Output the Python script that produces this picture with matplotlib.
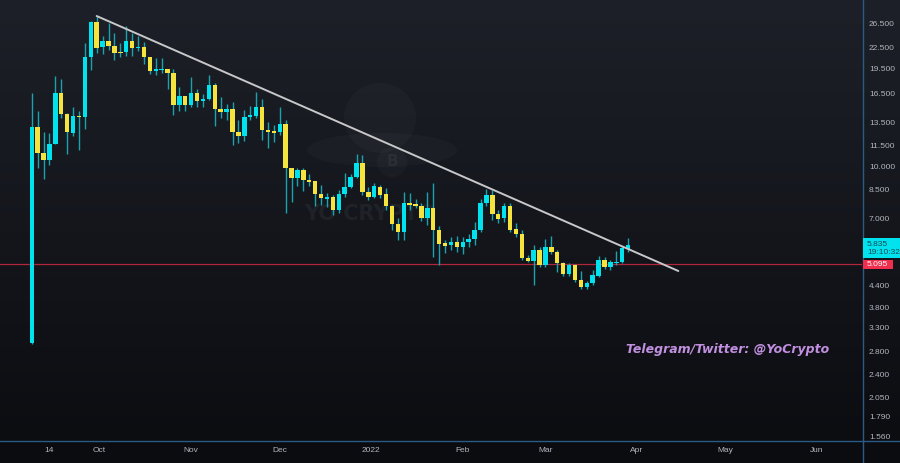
import numpy as np
import pandas as pd
import matplotlib
matplotlib.use("Agg")
import matplotlib.pyplot as plt
import matplotlib.dates as mdates
from matplotlib.colors import LinearSegmentedColormap
from matplotlib.patches import Ellipse, Rectangle
from matplotlib.lines import Line2D

plt.rcParams['font.family'] = ['Liberation Sans', 'DejaVu Sans']

# ---------------- data (2-day candles) ----------------
start_date = "2021-09-08"
n_candles = 102
opens = [
    2.97, 13.08, 10.94, 10.43, 11.64, 16.51, 14.29, 12.55, 14.10, 14.00,
    21.13, 26.86, 22.63, 23.58, 22.79, 21.87, 21.87, 23.58, 22.48, 22.63,
    21.13, 19.20, 19.27, 19.46, 18.94, 15.20, 16.17, 15.20, 16.51, 15.65,
    15.84, 17.44, 14.79, 14.49, 14.79, 12.64, 12.29, 14.01, 14.10, 14.99,
    12.85, 12.72, 12.60, 13.35, 9.86, 9.22, 9.73, 9.09, 9.03, 8.26,
    7.97, 8.09, 7.40, 8.26, 8.67, 9.28, 10.22, 8.37, 8.09, 8.67,
    8.26, 7.60, 6.72, 6.36, 7.76, 7.71, 7.60, 7.01, 7.50, 6.45,
    5.90, 5.82, 5.94, 5.74, 5.94, 6.06, 6.45, 7.76, 8.20, 7.20,
    7.01, 7.60, 6.49, 6.27, 5.32, 5.21, 5.62, 5.07, 5.74, 5.55,
    5.14, 4.77, 5.07, 4.58, 4.37, 4.49, 4.70, 5.25, 5.00, 5.13,
    5.18, 5.66]
highs = [
    16.51, 14.59, 12.64, 12.55, 18.55, 18.17, 14.35, 15.00, 14.59, 23.26,
    27.00, 27.99, 24.40, 26.67, 24.91, 23.26, 26.13, 24.91, 24.40, 23.42,
    21.20, 20.99, 20.99, 19.50, 19.46, 17.20, 16.20, 18.43, 16.97, 16.39,
    18.68, 17.68, 16.06, 15.30, 15.52, 13.72, 14.69, 15.10, 16.62, 15.84,
    13.53, 13.26, 14.99, 13.72, 9.90, 9.86, 9.86, 9.47, 9.05, 8.79,
    8.32, 8.20, 8.49, 9.53, 9.47, 10.87, 10.79, 8.67, 8.90, 8.79,
    8.61, 7.65, 7.01, 8.37, 8.32, 8.00, 7.76, 8.37, 8.90, 6.63,
    6.02, 6.15, 6.19, 6.15, 6.27, 6.82, 7.97, 8.55, 8.49, 7.40,
    7.76, 7.76, 6.77, 6.45, 5.43, 5.82, 5.74, 6.06, 6.19, 5.62,
    5.18, 5.14, 5.11, 4.87, 4.55, 4.90, 5.40, 5.36, 5.25, 5.58,
    5.78, 6.10]
lows = [
    2.95, 9.86, 9.15, 10.07, 11.60, 13.91, 10.87, 12.29, 11.17, 12.90,
    19.33, 21.72, 21.57, 22.17, 20.70, 21.13, 21.28, 21.28, 22.02, 20.14,
    18.81, 18.68, 18.95, 16.97, 14.20, 14.59, 14.59, 14.99, 14.99, 14.99,
    15.73, 13.17, 13.91, 13.72, 11.56, 11.72, 11.88, 13.72, 13.91, 11.96,
    11.32, 11.80, 12.38, 7.25, 7.81, 8.73, 8.43, 8.73, 7.60, 7.65,
    7.55, 7.15, 7.25, 8.09, 8.61, 9.22, 8.20, 7.92, 8.03, 8.03,
    7.40, 6.45, 6.02, 6.02, 7.40, 7.50, 6.86, 6.68, 5.36, 5.07,
    5.51, 5.62, 5.55, 5.47, 5.74, 5.82, 6.36, 7.60, 6.91, 6.77,
    6.82, 6.36, 6.15, 5.25, 5.18, 4.43, 5.00, 5.00, 5.47, 4.83,
    4.70, 4.70, 4.52, 4.30, 4.30, 4.43, 4.67, 4.93, 4.90, 5.07,
    5.14, 5.55]
closes = [
    13.08, 10.94, 10.43, 11.64, 16.51, 14.29, 12.64, 14.10, 14.00, 21.13,
    26.86, 22.48, 23.58, 22.79, 21.72, 21.72, 23.58, 22.48, 22.63, 21.13,
    19.20, 19.46, 19.46, 18.94, 15.20, 16.17, 15.20, 16.51, 15.65, 15.84,
    17.44, 14.79, 14.49, 14.79, 12.64, 12.29, 14.01, 14.20, 14.99, 12.81,
    12.64, 12.55, 13.35, 9.86, 9.22, 9.73, 9.09, 8.97, 8.26, 8.03,
    8.09, 7.40, 8.26, 8.67, 9.28, 10.22, 8.37, 8.09, 8.73, 8.20,
    7.60, 6.72, 6.36, 7.76, 7.65, 7.60, 7.01, 7.50, 6.45, 5.86,
    5.78, 5.94, 5.74, 5.94, 6.06, 6.45, 7.76, 8.20, 7.20, 6.96,
    7.60, 6.45, 6.27, 5.32, 5.21, 5.62, 5.07, 5.74, 5.55, 5.14,
    4.77, 5.07, 4.58, 4.37, 4.49, 4.73, 5.25, 5.00, 5.18, 5.19,
    5.70, 5.835]

trend_dates = ["2021-09-30", "2022-04-15"]
trend_prices = [27.99, 4.87]
support_level = 5.095
last_price_label = "5.835"
countdown_label = "19:10:32"

y_ticks = [26.5, 22.5, 19.5, 16.5, 13.5, 11.5, 10.0, 8.5, 7.0,
           4.4, 3.8, 3.3, 2.8, 2.4, 2.05, 1.79, 1.56]
x_tick_dates = ["2021-09-14", "2021-10-01", "2021-11-01", "2021-12-01",
                "2022-01-01", "2022-02-01", "2022-03-01", "2022-04-01",
                "2022-05-01", "2022-06-01"]
x_tick_labels = ["14", "Oct", "Nov", "Dec", "2022", "Feb", "Mar", "Apr",
                 "May", "Jun"]
x_range = ["2021-08-28 06:00", "2022-06-16 05:00"]
y_range = [1.528, 31.24]

# ---------------- styling ----------------
W, H = 900, 463
CYAN = "#00e3ef"
YELLOW = "#f6e43e"
WICK = "#1aa3ae"
AX_TXT = "#b2b5be"
SEP = "#2a5b86"

fig = plt.figure(figsize=(W / 100, H / 100), dpi=100)

# background gradient
bg = fig.add_axes([0, 0, 1, 1], zorder=-10)
grad = np.linspace(0, 1, 256).reshape(-1, 1)
cmap = LinearSegmentedColormap.from_list("bg", ["#1d2028", "#14161c", "#0b0c10"])
bg.imshow(grad, aspect="auto", cmap=cmap, extent=[0, 1, 0, 1], origin="upper")
bg.axis("off")

def fx(px):
    return px / W

def fy(py):
    return 1 - py / H

# watermark (faint)
wm = dict(transform=fig.transFigure, facecolor="white", alpha=0.025,
          edgecolor="none", zorder=-5)
fig.add_artist(Ellipse((fx(380), fy(118)), 72 / W, 70 / H, **wm))
fig.add_artist(Ellipse((fx(382), fy(150)), 150 / W, 34 / H, **wm))
fig.add_artist(Ellipse((fx(392), fy(162)), 30 / W, 30 / H, **wm))
fig.text(fx(370), fy(214), "YO CRYPTO", color="white", alpha=0.05,
         fontsize=15, fontweight="bold", ha="center", va="center",
         family="DejaVu Sans", zorder=-5)
fig.text(fx(392), fy(162), "B", color="white", alpha=0.05,
         fontsize=11, fontweight="bold", ha="center", va="center",
         family="DejaVu Sans", zorder=-5)

ax = fig.add_axes([0, fy(440), fx(862), 440 / H])
ax.patch.set_alpha(0)
ax.set_yscale("log")

dates = pd.date_range(start_date, periods=n_candles, freq="2D")
x = mdates.date2num(dates)
o = np.array(opens); h = np.array(highs); l = np.array(lows); c = np.array(closes)
up = c >= o
colors = np.where(up, CYAN, YELLOW)

ax.vlines(x, l, h, color=WICK, lw=1.0, zorder=2)
ax.bar(x, np.abs(c - o), bottom=np.minimum(o, c), width=1.5, color=colors,
       linewidth=0, zorder=3)

ax.axhline(support_level, color="#b0263b", lw=0.9, zorder=1)
tx = mdates.date2num(pd.to_datetime(trend_dates))
ax.plot(tx, trend_prices, color="#c8c8ca", lw=1.4, zorder=4,
        solid_capstyle="round")

ax.set_xlim(mdates.date2num(pd.Timestamp(x_range[0])),
            mdates.date2num(pd.Timestamp(x_range[1])))
ax.set_ylim(*y_range)

ax.yaxis.tick_right()
ax.set_yticks(y_ticks)
ax.set_yticklabels([f"{v:.3f}" for v in y_ticks])
ax.yaxis.set_minor_locator(matplotlib.ticker.NullLocator())
ax.set_xticks(mdates.date2num(pd.to_datetime(x_tick_dates)))
ax.set_xticklabels(x_tick_labels)
ax.tick_params(axis="y", length=0, pad=5, labelsize=6, labelcolor=AX_TXT)
ax.tick_params(axis="x", length=0, pad=5, labelsize=6, labelcolor=AX_TXT)
for s in ax.spines.values():
    s.set_visible(False)

# separators
fig.add_artist(Line2D([fx(862.5)] * 2, [0, 1], transform=fig.transFigure,
                      color=SEP, lw=1.0, zorder=5))
fig.add_artist(Line2D([0, 1], [fy(440.5)] * 2, transform=fig.transFigure,
                      color=SEP, lw=1.0, zorder=5))

# price labels on the right axis
fig.canvas.draw()
def price_to_py(p):
    disp = ax.transData.transform((x[0], p))
    return H - disp[1]

py_last = price_to_py(float(last_price_label))
fig.add_artist(Rectangle((fx(863), fy(py_last + 13)), (W - 863) / W, 20 / H,
                         transform=fig.transFigure, facecolor=CYAN,
                         edgecolor="none", zorder=6))
fig.text(fx(867), fy(py_last), last_price_label, color="#0f4a52",
         fontsize=6, ha="left", va="center", zorder=7)
fig.text(fx(867), fy(py_last + 8.2), countdown_label, color="#0f4a52",
         fontsize=6, ha="left", va="center", zorder=7)

py_sup = price_to_py(support_level)
fig.add_artist(Rectangle((fx(863), fy(py_sup + 4.4)), 30 / W, 8.8 / H,
                         transform=fig.transFigure, facecolor="#ef2f4d",
                         edgecolor="none", zorder=6))
fig.text(fx(867), fy(py_sup), f"{support_level:.3f}", color="white",
         fontsize=6, ha="left", va="center", zorder=7)

fig.text(fx(626), fy(350), "Telegram/Twitter: @YoCrypto", color="#c190e0",
         fontsize=9, fontweight="bold", style="italic", ha="left",
         va="center", family="DejaVu Sans")

fig.savefig("out.png", dpi=100)
